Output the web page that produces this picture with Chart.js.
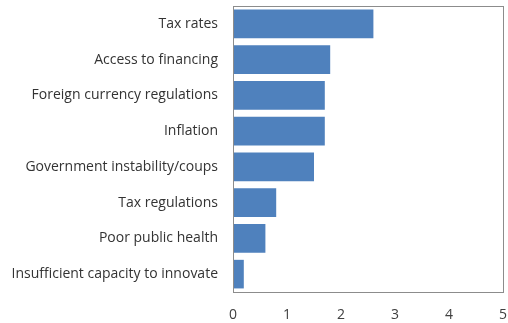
<!DOCTYPE html>
<html>
<head>
<meta charset="utf-8">
<script src="https://cdn.jsdelivr.net/npm/chart.js@4"></script>
<style>
  html, body { margin: 0; padding: 0; background: #fff; }
  #wrap { width: 508px; height: 323px; }
</style>
</head>
<body>
<div id="wrap"><canvas id="barChart" width="508" height="323"></canvas></div>
<script>
// дані
const categories = [
    "Tax rates",
    "Access to financing",
    "Foreign currency regulations",
    "Inflation",
    "Government instability/coups",
    "Tax regulations",
    "Poor public health",
    "Insufficient capacity to innovate"
];
const values = [2.6, 1.8, 1.7, 1.7, 1.5, 0.8, 0.6, 0.2];
const xTicks = [0, 1, 2, 3, 4, 5];

// рамка навколо області графіка
const frame = {
    id: "frame",
    afterDatasetsDraw(chart) {
        const a = chart.chartArea;
        const ctx = chart.ctx;
        ctx.save();
        ctx.strokeStyle = "#8c8c8c";
        ctx.lineWidth = 1;
        ctx.strokeRect(Math.round(a.left) + 0.5, Math.round(a.top) + 0.5,
            Math.round(a.right - a.left), Math.round(a.bottom - a.top));
        ctx.restore();
    }
};

const font = "'Open Sans', 'DejaVu Sans', sans-serif";

new Chart(document.getElementById("barChart").getContext("2d"), {
    type: "bar",
    data: {
        labels: categories,
        datasets: [{
            data: values,
            backgroundColor: "#4f81bd",
            borderWidth: 0,
            barPercentage: 0.8,
            categoryPercentage: 1
        }]
    },
    options: {
        indexAxis: "y",
        responsive: false,
        animation: false,
        layout: { padding: { top: 6, right: 5, left: 0, bottom: 0 } },
        plugins: {
            legend: { display: false },
            tooltip: { enabled: false }
        },
        scales: {
            x: {
                min: xTicks[0],
                max: xTicks[xTicks.length - 1],
                afterBuildTicks(scale) {
                    scale.ticks = xTicks.map(v => ({ value: v }));
                },
                grid: { display: false, drawTicks: false },
                border: { display: false },
                ticks: {
                    color: "#404040",
                    font: { family: font, size: 14 },
                    padding: 15
                },
                afterFit(scale) {
                    scale.height = 31;
                    scale.paddingLeft = 0;
                    scale.paddingRight = 0;
                }
            },
            y: {
                grid: { display: false, drawTicks: false },
                border: { display: false },
                ticks: {
                    color: "#333333",
                    font: { family: font, size: 14 },
                    padding: 15
                },
                afterFit(scale) {
                    scale.width = 233;
                    scale.paddingTop = 0;
                    scale.paddingBottom = 0;
                }
            }
        }
    },
    plugins: [frame]
});
</script>
</body>
</html>
